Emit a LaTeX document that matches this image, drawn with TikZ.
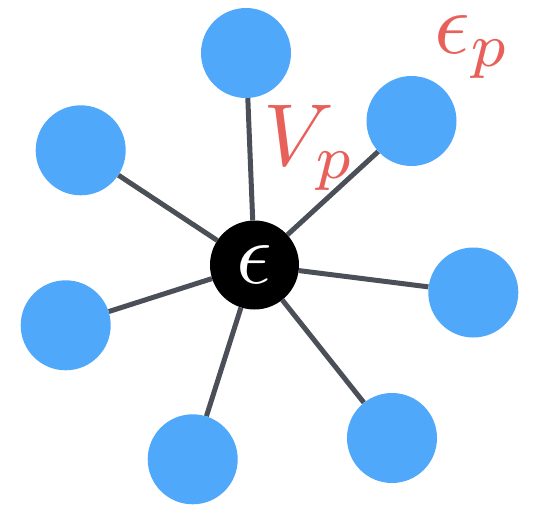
\documentclass[tikz,border=0pt]{standalone}
\usetikzlibrary{backgrounds}
\definecolor{nodeblue}{HTML}{50A8FA}
\definecolor{labred}{HTML}{E8605A}
\definecolor{edgegray}{HTML}{4B5058}
\begin{document}
\begin{tikzpicture}[x=1pt,y=-1pt,
  leaf/.style={circle,fill=nodeblue,minimum size=90pt,inner sep=0pt},
  hub/.style={circle,fill=black,minimum size=89pt,inner sep=0pt},
  edge/.style={draw=edgegray,line width=5pt},
  lab/.style={text=labred,inner sep=0pt,scale=8.8}]
\useasboundingbox (0,0) rectangle (536,507);
\node[hub] (c) at (254.5,265) {};
\node[text=white,inner sep=0pt,scale=8.8] (ct) at (c.center) {$\epsilon$};
\node[leaf] (n1) at (246,53) {};
\node[leaf] (n2) at (411.5,121) {};
\node[leaf] (n3) at (80.7,150.3) {};
\node[leaf] (n4) at (473.3,292.5) {};
\node[leaf] (n5) at (65.7,325.3) {};
\node[leaf] (n6) at (192.7,459.3) {};
\node[leaf] (n7) at (392,438) {};
\begin{scope}[on background layer]
\foreach \n in {n1,n2,n3,n4,n5,n6,n7} \draw[edge] (c) -- (\n);
\end{scope}
\node[lab,anchor=base west] (vp) at (262,165) {$V_p$};
\node[lab,anchor=base west] (ep) at (433,53) {$\epsilon_p$};
\end{tikzpicture}
\end{document}
